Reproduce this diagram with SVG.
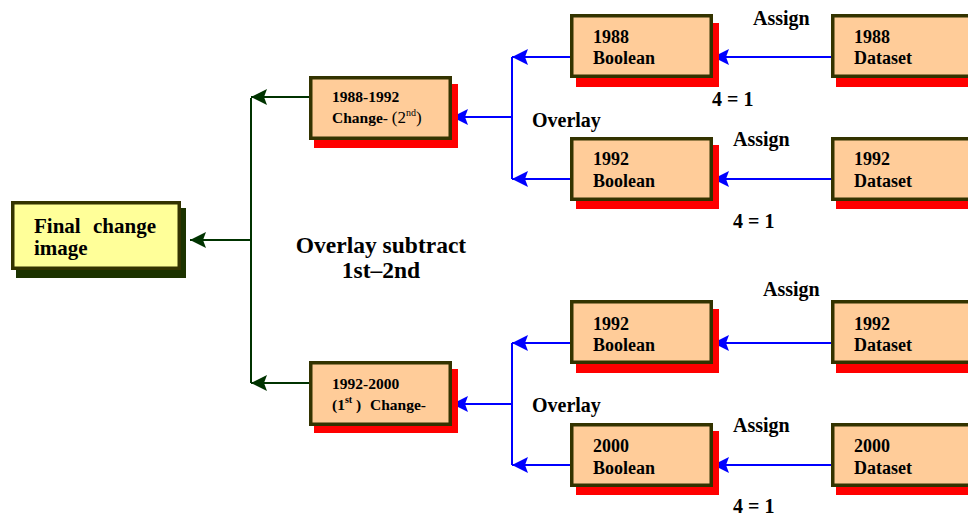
<svg xmlns="http://www.w3.org/2000/svg" width="968" height="518" viewBox="0 0 968 518">
<style>
text{font-family:"Liberation Serif","Times New Roman",serif;font-weight:bold;fill:#000}
.box{fill:#FFCC99;stroke:#333300;stroke-width:3.5}
.sh{fill:#FF0000}
.b{font-size:18px}
.c{font-size:15.5px}
.lbl{font-size:20px}
.blue{stroke:#0000FF;stroke-width:2;fill:none}
.green{stroke:#003300;stroke-width:2;fill:none}
</style>
<defs>
<marker id="ab" markerWidth="16" markerHeight="16" refX="16" refY="8" orient="auto" markerUnits="userSpaceOnUse">
<path d="M16,8 L0,0 L3,8 L0,16 Z" fill="#0000FF"/>
</marker>
<marker id="ag" markerWidth="16" markerHeight="16" refX="16" refY="8" orient="auto" markerUnits="userSpaceOnUse">
<path d="M16,8 L0,0 L3,8 L0,16 Z" fill="#003300"/>
</marker>
</defs>

<g id="connectors">
<path class="green" d="M251,98 V383"/>
<path class="green" d="M309,97 H251" marker-end="url(#ag)"/>
<path class="green" d="M309,383 H251" marker-end="url(#ag)"/>
<path class="green" d="M251,240 H190" marker-end="url(#ag)"/>
<path class="blue" d="M512,57 V179"/>
<path class="blue" d="M570,57 H512" marker-end="url(#ab)"/>
<path class="blue" d="M570,179 H512" marker-end="url(#ab)"/>
<path class="blue" d="M512,117 H452" marker-end="url(#ab)"/>
<path class="blue" d="M512,343 V465"/>
<path class="blue" d="M570,343 H512" marker-end="url(#ab)"/>
<path class="blue" d="M570,465 H512" marker-end="url(#ab)"/>
<path class="blue" d="M512,404 H452" marker-end="url(#ab)"/>
<path class="blue" d="M831,57 H713" marker-end="url(#ab)"/>
<path class="blue" d="M831,179 H713" marker-end="url(#ab)"/>
<path class="blue" d="M831,343 H713" marker-end="url(#ab)"/>
<path class="blue" d="M831,465 H713" marker-end="url(#ab)"/>
</g>

<g id="final">
<rect x="16" y="208" width="170" height="70" fill="#1C3300"/>
<rect x="12.75" y="202.75" width="166.5" height="65.5" fill="#FFFF99" stroke="#333300" stroke-width="3.5"/>
<text font-size="21" y="233"><tspan x="34">Final</tspan><tspan x="93">change</tspan></text>
<text font-size="21" x="34" y="255">image</text>
</g>

<g id="change2">
<rect class="sh" x="314" y="84" width="144" height="64"/>
<rect class="box" x="310.75" y="77.75" width="139.5" height="60.5"/>
<text class="c" x="332" y="102">1988-1992</text>
<text class="c" x="332" y="123">Change- <tspan font-weight="normal" font-size="17">(2</tspan><tspan font-weight="normal" font-size="10" dy="-7">nd</tspan><tspan font-weight="normal" font-size="17" dy="7">)</tspan></text>
</g>

<g id="change1">
<rect class="sh" x="314" y="369" width="144" height="64"/>
<rect class="box" x="310.75" y="362.75" width="139.5" height="61.5"/>
<text class="c" x="332" y="389">1992-2000</text>
<text class="c" x="332" y="410">(1<tspan font-size="10" dy="-7">st</tspan><tspan dy="7"> )</tspan><tspan x="370">Change-</tspan></text>
</g>

<g id="bool1988">
<rect class="sh" x="576" y="23" width="143" height="64"/>
<rect class="box" x="571.75" y="15.75" width="139.5" height="60.5"/>
<text class="b" x="593" y="43">1988</text>
<text class="b" x="593" y="64">Boolean</text>
</g>
<g id="bool1992a">
<rect class="sh" x="576" y="145" width="143" height="64"/>
<rect class="box" x="571.75" y="138.75" width="139.5" height="60.5"/>
<text class="b" x="593" y="165">1992</text>
<text class="b" x="593" y="187">Boolean</text>
</g>
<g id="bool1992b">
<rect class="sh" x="576" y="309" width="143" height="64"/>
<rect class="box" x="571.75" y="301.75" width="139.5" height="60.5"/>
<text class="b" x="593" y="330">1992</text>
<text class="b" x="593" y="351">Boolean</text>
</g>
<g id="bool2000">
<rect class="sh" x="576" y="431" width="143" height="64"/>
<rect class="box" x="571.75" y="424.75" width="139.5" height="60.5"/>
<text class="b" x="593" y="452">2000</text>
<text class="b" x="593" y="474">Boolean</text>
</g>

<g id="data1988">
<rect class="sh" x="836" y="23" width="160" height="64"/>
<rect class="box" x="832.75" y="15.75" width="160" height="60.5"/>
<text class="b" x="854" y="43">1988</text>
<text class="b" x="854" y="64">Dataset</text>
</g>
<g id="data1992a">
<rect class="sh" x="836" y="145" width="160" height="64"/>
<rect class="box" x="832.75" y="138.75" width="160" height="60.5"/>
<text class="b" x="854" y="165">1992</text>
<text class="b" x="854" y="187">Dataset</text>
</g>
<g id="data1992b">
<rect class="sh" x="836" y="309" width="160" height="64"/>
<rect class="box" x="832.75" y="301.75" width="160" height="60.5"/>
<text class="b" x="854" y="330">1992</text>
<text class="b" x="854" y="351">Dataset</text>
</g>
<g id="data2000">
<rect class="sh" x="836" y="431" width="160" height="64"/>
<rect class="box" x="832.75" y="424.75" width="160" height="60.5"/>
<text class="b" x="854" y="452">2000</text>
<text class="b" x="854" y="474">Dataset</text>
</g>

<g id="labels">
<text class="lbl" x="753" y="25">Assign</text>
<text class="lbl" x="712" y="106">4 = 1</text>
<text class="lbl" x="532" y="127">Overlay</text>
<text class="lbl" x="733" y="146">Assign</text>
<text class="lbl" x="733" y="228">4 = 1</text>
<text font-size="23.5" x="381" y="253" text-anchor="middle">Overlay subtract</text>
<text font-size="23.5" x="381" y="278" text-anchor="middle">1st–2nd</text>
<text class="lbl" x="763" y="296">Assign</text>
<text class="lbl" x="532" y="412">Overlay</text>
<text class="lbl" x="733" y="432">Assign</text>
<text class="lbl" x="733" y="513">4 = 1</text>
</g>
</svg>
